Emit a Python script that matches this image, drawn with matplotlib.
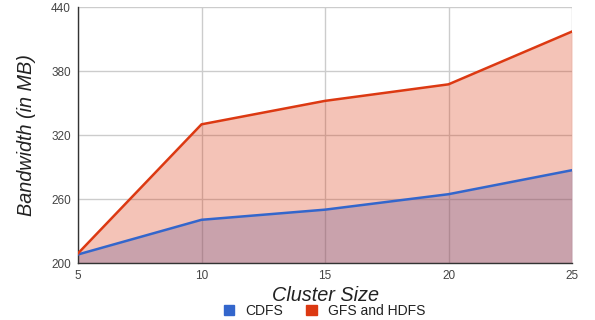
import matplotlib
matplotlib.use("Agg")
import matplotlib.pyplot as plt

cluster_size = [5, 10, 15, 20, 25]
cdfs = [208, 240.5, 250, 264.5, 287]
gfs_hdfs = [209, 330, 352, 367.5, 417]
y_ticks = [200, 260, 320, 380, 440]

BLUE = "#3366CC"
RED = "#DC3912"

plt.rcParams["font.family"] = ["Liberation Sans", "DejaVu Sans"]
fig = plt.figure(figsize=(5.95, 3.2), dpi=100)
ax = fig.add_axes([78 / 595, 1 - 263 / 320, (572 - 78) / 595, (263 - 7) / 320])

# areas: blue first, red over it (gives the mauve overlap)
ax.fill_between(cluster_size, cdfs, 200, color=BLUE, alpha=0.3, lw=0)
ax.fill_between(cluster_size, gfs_hdfs, 200, color=RED, alpha=0.3, lw=0)
ax.plot(cluster_size, cdfs, color=BLUE, lw=1.8, label="CDFS", zorder=3)
ax.plot(cluster_size, gfs_hdfs, color=RED, lw=1.8, label="GFS and HDFS", zorder=3)

ax.set_xlim(5, 25)
ax.set_ylim(200, 440)
ax.set_xticks(cluster_size)
ax.set_yticks(y_ticks)
ax.grid(True, color="#cccccc", lw=1)
ax.set_axisbelow(True)
for side in ("top", "right"):
    ax.spines[side].set_visible(False)
for side in ("left", "bottom"):
    ax.spines[side].set_color("#333333")
    ax.spines[side].set_linewidth(1)
ax.tick_params(length=0, labelsize=8.5, colors="#444444", pad=5)

ax.set_xlabel("Cluster Size", fontsize=14.3, style="italic", color="#222222", labelpad=3)
ax.set_ylabel("Bandwidth (in MB)", fontsize=14.3, style="italic", color="#222222", labelpad=11)

handles = [plt.Rectangle((0, 0), 1, 1, color=BLUE), plt.Rectangle((0, 0), 1, 1, color=RED)]
fig.legend(handles, ["CDFS", "GFS and HDFS"], loc="center", bbox_to_anchor=(324.5 / 595, 1 - 311 / 320),
           ncol=2, frameon=False, fontsize=10, handlelength=0.75, handleheight=0.75,
           handletextpad=0.8, columnspacing=1.65, labelcolor="#222222")

fig.savefig("out.png", dpi=100)
